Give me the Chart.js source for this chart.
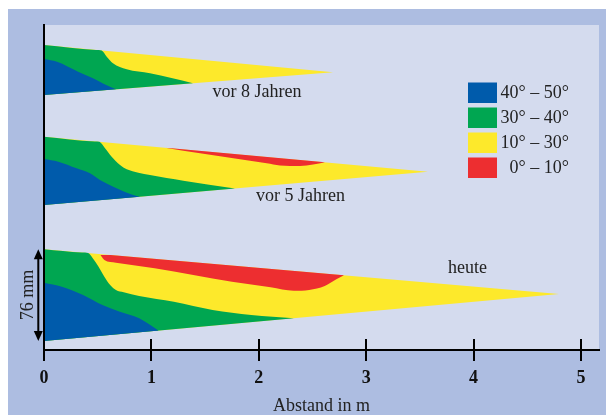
<!DOCTYPE html>
<html>
<head>
<meta charset="utf-8">
<script src="https://cdn.jsdelivr.net/npm/chart.js"></script>
<style>
  html, body { margin: 0; padding: 0; background: #fff; }
  canvas { display: block; }
</style>
</head>
<body>
<canvas id="chart" width="606" height="415"></canvas>
<script>
// x in m, y in mm (one shared vertical axis, hidden)
const xTicks = [0, 1, 2, 3, 4, 5];
const zoneLabels = ["40° – 50°", "30° – 40°", "10° – 30°", "0° – 10°"];
const zoneColors = ["#005bab", "#00a651", "#fde92b", "#ed2e30"];
const wedgeNames = ["vor 8 Jahren", "vor 5 Jahren", "heute"];

// vor 8 Jahren
const top8 = [[0, 252.8], [2.691, 230.2]];
const bottom8 = [[0, 211.3], [2.691, 230.2]];
const green8 = [[0, 252.8], [0.484, 248.7], [0.537, 248.2], [0.584, 243.1], [0.642, 237.6], [0.770, 232.6], [0.987, 229.3], [1.387, 221.1]];
const blue8 = [[0, 241.2], [0.121, 238.9], [0.317, 230.7], [0.456, 225.2], [0.549, 220.9], [0.670, 216.1]];

// vor 5 Jahren
const top5 = [[0, 176.8], [3.575, 147.8]];
const bottom5 = [[0, 120.2], [3.575, 147.8]];
const green5 = [[0, 176.8], [0.475, 172.9], [0.515, 172.6], [0.568, 167.2], [0.630, 160.2], [0.708, 153.3], [0.770, 149.8], [0.987, 145.0], [1.297, 140.3], [1.778, 133.9]];
const blue5 = [[0, 158.3], [0.133, 156.1], [0.304, 150.6], [0.428, 146.4], [0.521, 140.9], [0.645, 135.3], [0.831, 128.5], [0.894, 127.1]];
const red5 = [[1.142, 167.5], [1.453, 163.0], [1.763, 158.9], [2.074, 154.7], [2.197, 152.9], [2.384, 152.5], [2.505, 153.7], [2.616, 155.6]];

// heute
const top0 = [[0, 83.5], [4.795, 46.4]];
const bottom0 = [[0, 7.5], [4.795, 46.4]];
const green0 = [[0, 83.5], [0.354, 80.8], [0.411, 80.3], [0.454, 76.0], [0.508, 69.0], [0.562, 60.7], [0.616, 53.9], [0.670, 49.7], [0.742, 47.8], [0.886, 44.8], [1.209, 40.0], [1.570, 33.2], [1.930, 29.0], [2.328, 26.4]];
const blue0 = [[0, 55.8], [0.166, 52.5], [0.364, 45.6], [0.544, 37.3], [0.706, 31.7], [0.886, 26.3], [1.066, 16.2]];
const red0 = [[0.519, 79.5], [0.562, 74.6], [0.670, 72.4], [1.030, 67.7], [1.390, 62.2], [1.750, 56.6], [2.110, 52.0], [2.326, 49.1], [2.469, 49.7], [2.614, 53.0], [2.722, 58.6], [2.793, 61.9]];

const SERIF = '"Liberation Serif", "Times New Roman", serif';
const datasets = [];

function line(pts, color, fill, order, curved) {
  return {
    data: pts.map(([x, y]) => ({ x, y })),
    backgroundColor: color || "rgba(0,0,0,0)",
    borderColor: "rgba(0,0,0,0)",
    borderWidth: 0,
    pointRadius: 0,
    pointHoverRadius: 0,
    fill: fill,
    order: order,
    cubicInterpolationMode: curved ? "monotone" : "default",
  };
}

function addWedge(top, bottom, green, blue, red) {
  const b = datasets.length;
  datasets.push(line(bottom, null, false, 5));
  datasets.push(line(top, zoneColors[2], b, 4));
  const t = b + 1;
  if (red) datasets.push(line(red, zoneColors[3], t, 3, true));
  datasets.push(line(green, zoneColors[1], b, 2, true));
  datasets.push(line(blue, zoneColors[0], b, 1, true));
}

addWedge(top8, bottom8, green8, blue8, null);
addWedge(top5, bottom5, green5, blue5, red5);
addWedge(top0, bottom0, green0, blue0, red0);

const paper = {
  id: "paper",
  beforeDraw(chart) {
    const { ctx, chartArea: a, width, height } = chart;
    ctx.save();
    ctx.fillStyle = "#fff";
    ctx.fillRect(0, 0, width, height);
    ctx.fillStyle = "#adbde1";
    ctx.fillRect(8, 9, width - 8, height - 9);
    ctx.fillStyle = "#d4dbee";
    ctx.fillRect(a.left, a.top, a.right - a.left, a.bottom - a.top);
    ctx.restore();
  },
  afterDraw(chart) {
    const { ctx, chartArea: a, scales: { x, y } } = chart;
    ctx.save();

    // tick marks also reach into the plot
    ctx.strokeStyle = "#000";
    ctx.lineWidth = 2;
    x.ticks.forEach((t) => {
      const px = Math.round(x.getPixelForValue(t.value));
      ctx.beginPath();
      ctx.moveTo(px, a.bottom - 11);
      ctx.lineTo(px, a.bottom);
      ctx.stroke();
    });

    // wedge names
    ctx.fillStyle = "#222";
    ctx.font = "18px " + SERIF;
    ctx.textAlign = "center";
    ctx.textBaseline = "alphabetic";
    const notes = [[1.983, 209.7], [2.388, 123.1], [3.943, 63.8]];
    wedgeNames.forEach((n, i) => {
      ctx.fillText(n, x.getPixelForValue(notes[i][0]), y.getPixelForValue(notes[i][1]));
    });

    // 76 mm arrow on the newest wedge
    const yTop = y.getPixelForValue(top0[0][1]);
    const yBot = y.getPixelForValue(bottom0[0][1]);
    const ax = 38.3;
    ctx.strokeStyle = "#000";
    ctx.fillStyle = "#000";
    ctx.lineWidth = 2;
    ctx.beginPath();
    ctx.moveTo(ax, yTop + 6);
    ctx.lineTo(ax, yBot - 6);
    ctx.stroke();
    ctx.beginPath();
    ctx.moveTo(ax, yTop);
    ctx.lineTo(ax - 4.5, yTop + 10);
    ctx.lineTo(ax + 4.5, yTop + 10);
    ctx.closePath();
    ctx.fill();
    ctx.beginPath();
    ctx.moveTo(ax, yBot);
    ctx.lineTo(ax - 4.5, yBot - 10);
    ctx.lineTo(ax + 4.5, yBot - 10);
    ctx.closePath();
    ctx.fill();

    ctx.fillStyle = "#222";
    ctx.translate(28.5, (yTop + yBot) / 2);
    ctx.rotate(-Math.PI / 2);
    ctx.textAlign = "center";
    ctx.textBaseline = "middle";
    ctx.fillText("76 mm", 0, 0);
    ctx.restore();

    // legend
    ctx.save();
    ctx.font = "18px " + SERIF;
    ctx.textAlign = "right";
    ctx.textBaseline = "middle";
    zoneLabels.forEach((lab, i) => {
      const by = 82.5 + i * 25;
      ctx.fillStyle = zoneColors[i];
      ctx.fillRect(468, by, 29, 20.5);
      ctx.fillStyle = "#222";
      ctx.fillText(lab, 569, by + 11);
    });
    ctx.restore();
  },
};

new Chart(document.getElementById("chart"), {
  type: "line",
  data: { datasets },
  plugins: [paper],
  options: {
    responsive: false,
    animation: false,
    events: [],
    devicePixelRatio: 1,
    layout: { padding: { top: 25, left: 44, right: 7, bottom: 0 } },
    plugins: { legend: { display: false }, tooltip: { enabled: false } },
    scales: {
      x: {
        type: "linear",
        min: 0,
        max: 5.1676,
        afterBuildTicks: (s) => { s.ticks = xTicks.map((v) => ({ value: v })); },
        afterFit: (s) => { s.height = 65; },
        grid: { display: true, drawOnChartArea: false, drawTicks: true, tickLength: 11, color: "#000", lineWidth: 2 },
        border: { display: true, color: "#000", width: 2, z: 1 },
        ticks: { color: "#111", padding: 7, maxRotation: 0, autoSkip: false, font: { family: SERIF, size: 18, weight: "bold" } },
        title: { display: true, text: "Abstand in m", color: "#222", padding: { top: 0, bottom: -2 }, font: { family: SERIF, size: 18 } },
      },
      y: {
        type: "linear",
        min: 0,
        max: 269.35,
        afterFit: (s) => { s.width = 0; },
        grid: { display: false, drawTicks: false },
        ticks: { display: false },
        border: { display: true, color: "#000", width: 2, z: 1 },
      },
    },
  },
});
</script>
</body>
</html>
